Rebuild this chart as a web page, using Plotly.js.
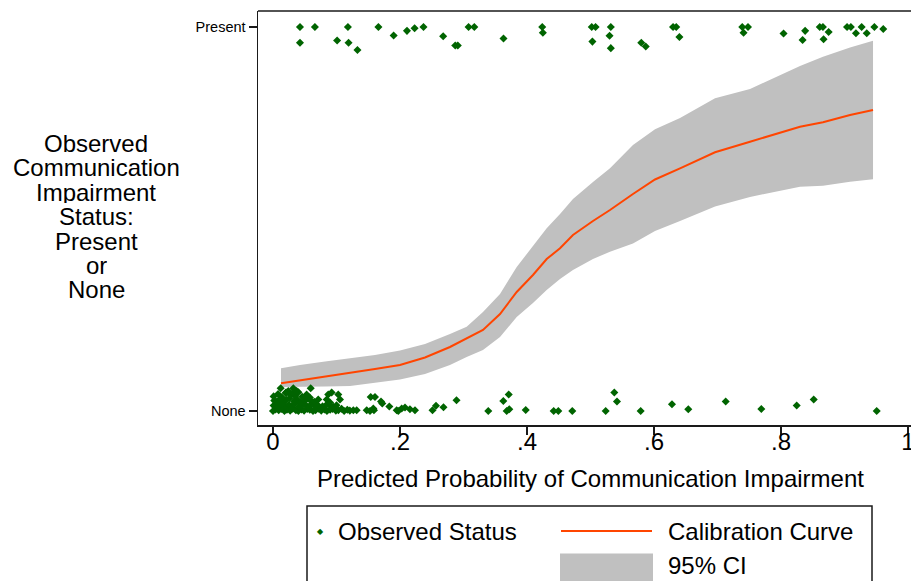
<!DOCTYPE html>
<html>
<head>
<meta charset="utf-8">
<script src="https://cdn.plot.ly/plotly-3.0.1.min.js"></script>
<style>
  html, body { margin: 0; padding: 0; background: #fff; overflow: hidden; }
  #chart { width: 911px; height: 581px; }
</style>
</head>
<body>
<div id="chart"></div>
<script>
// ---------------- DATA ----------------
// Calibration curve (lowess-type smooth) and its 95% CI
const curveX = [0.0126, 0.0425, 0.0819, 0.1213, 0.1606, 0.2000, 0.2394, 0.2787, 0.3050, 0.3307,
                0.3575, 0.3838, 0.4094, 0.4310, 0.4520, 0.4724, 0.5039, 0.5307, 0.5669, 0.6016,
                0.6410, 0.6961, 0.7512, 0.8299, 0.8661, 0.9087, 0.9449];
const curveY = [0.0721, 0.0794, 0.0891, 0.0997, 0.1094, 0.1198, 0.1393, 0.1667, 0.1888, 0.2109,
                0.2526, 0.3099, 0.3542, 0.3958, 0.4237, 0.4583, 0.4948, 0.5234, 0.5651, 0.6029,
                0.6320, 0.6737, 0.7013, 0.7404, 0.7518, 0.7708, 0.7839];
const ciUpper = [0.1112, 0.1198, 0.1289, 0.1372, 0.1458, 0.1576, 0.1745, 0.2005, 0.2195, 0.2578,
                 0.3047, 0.3750, 0.4297, 0.4758, 0.5130, 0.5521, 0.5964, 0.6320, 0.6927, 0.7336,
                 0.7630, 0.8143, 0.8385, 0.8984, 0.9227, 0.9466, 0.9643];
const ciLower = [0.0625, 0.0625, 0.0638, 0.0651, 0.0729, 0.0820, 0.0964, 0.1198, 0.1406, 0.1589,
                 0.1927, 0.2448, 0.2813, 0.3151, 0.3438, 0.3672, 0.3958, 0.4148, 0.4362, 0.4688,
                 0.4948, 0.5326, 0.5573, 0.5841, 0.5867, 0.5971, 0.6034];

// Observed status = Present (value 1, vertically jittered)
const presentX = [0.0425, 0.0425, 0.066, 0.101, 0.118, 0.119, 0.133, 0.166, 0.190, 0.211,
                  0.223, 0.237, 0.268, 0.287, 0.291, 0.308, 0.317, 0.363, 0.424, 0.425,
                  0.502, 0.508, 0.532, 0.530, 0.503, 0.532, 0.580, 0.587, 0.630, 0.635,
                  0.640, 0.739, 0.748, 0.741, 0.804, 0.838, 0.834, 0.861, 0.866, 0.875,
                  0.867, 0.904, 0.910, 0.918, 0.927, 0.935, 0.947, 0.961];
const presentY = [1.000, 0.959, 1.000, 0.965, 1.000, 0.959, 0.940, 1.000, 0.978, 0.990,
                  0.997, 1.000, 0.976, 0.952, 0.952, 1.000, 1.000, 0.970, 1.000, 0.985,
                  1.000, 1.000, 1.000, 0.977, 0.962, 0.945, 0.959, 0.949, 1.000, 1.000,
                  0.974, 1.000, 1.000, 0.985, 0.983, 0.990, 0.966, 1.000, 1.000, 0.987,
                  0.968, 1.000, 1.000, 0.984, 1.000, 0.984, 1.000, 0.995];

// Observed status = None (value 0, vertically jittered)
const noneX = [
  0.000, 0.004, 0.009, 0.013, 0.018, 0.022, 0.027, 0.031, 0.036, 0.040, 0.045, 0.049, 0.054, 0.058,
  0.063, 0.067, 0.072, 0.076, 0.081, 0.085, 0.090, 0.094, 0.099, 0.103, 0.108, 0.112, 0.117, 0.121,
  0.001, 0.007, 0.012, 0.019, 0.025, 0.030, 0.034, 0.041, 0.047, 0.052, 0.057, 0.061, 0.066, 0.070,
  0.078, 0.083, 0.088, 0.095, 0.100,
  0.002, 0.006, 0.011, 0.016, 0.021, 0.026, 0.033, 0.038, 0.043, 0.050, 0.055, 0.060, 0.065,
  0.0713, 0.0846, 0.0898, 0.1055,
  0.001, 0.008, 0.014, 0.020, 0.028, 0.035, 0.040, 0.046, 0.053, 0.058,
  0.087, 0.0924, 0.1028, 0.0205, 0.032,
  0.0121, 0.0241, 0.032, 0.0373, 0.0594,
  0.1265, 0.1318, 0.1476, 0.1528, 0.159, 0.158, 0.1539, 0.1606, 0.1701, 0.1721, 0.1832, 0.1948,
  0.1973, 0.2027, 0.2079, 0.2157, 0.2236, 0.2512, 0.2567, 0.2685, 0.289,
  0.339, 0.3627, 0.3712, 0.368, 0.3721, 0.398, 0.442, 0.4493, 0.4713, 0.5239, 0.5375, 0.5417,
  0.579, 0.6283, 0.654, 0.7129, 0.769, 0.8247, 0.8515, 0.9507
];
const noneY = [
  0.000, 0.004, 0.002, 0.005, 0.000, 0.003, 0.001, 0.006, 0.002, 0.000, 0.004, 0.001, 0.005, 0.003,
  0.000, 0.002, 0.006, 0.001, 0.004, 0.000, 0.003, 0.005, 0.001, 0.002, 0.006, 0.000, 0.003, 0.001,
  0.014, 0.011, 0.018, 0.013, 0.016, 0.010, 0.019, 0.012, 0.017, 0.015, 0.011, 0.018, 0.013, 0.016,
  0.012, 0.014, 0.017, 0.011, 0.015,
  0.027, 0.024, 0.031, 0.022, 0.029, 0.033, 0.025, 0.030, 0.023, 0.028, 0.032, 0.026, 0.024,
  0.030, 0.030, 0.022, 0.030,
  0.038, 0.044, 0.036, 0.047, 0.041, 0.039, 0.049, 0.037, 0.043, 0.035,
  0.043, 0.048, 0.043, 0.048, 0.048,
  0.059, 0.052, 0.059, 0.052, 0.059,
  0.0018, 0.0018, 0.0018, 0.000, 0.0018, 0.0063, 0.0365, 0.0365, 0.0245, 0.0193, 0.0115, 0.0018,
  0.000, 0.0063, 0.0089, 0.0044, 0.0018, 0.0018, 0.0135, 0.0096, 0.0279,
  0.000, 0.026, 0.0427, 0.000, 0.0044, 0.0026, 0.000, 0.000, 0.000, 0.000, 0.0479, 0.0245,
  0.000, 0.0174, 0.0044, 0.0245, 0.0052, 0.0141, 0.0297, 0.000
];

// Axis ticks
const xTickVals = [0, 0.2, 0.4, 0.6, 0.8, 1];
const xTickText = ['0', '.2', '.4', '.6', '.8', '1'];
const yTickVals = [0, 1];
const yTickText = ['None', 'Present'];

const xTitle = 'Predicted Probability of Communication Impairment';
const yTitleLines = ['Observed', 'Communication', 'Impairment', 'Status:', 'Present', 'or', 'None'];
const legendLabels = ['Observed Status', 'Calibration Curve', '95% CI'];

// ---------------- STYLE ----------------
const FONT = 'Liberation Sans, Arial, Helvetica, sans-serif';
const GREEN = '#006400';
const ORANGE = '#FF4500';
const GREY = '#C0C0C0';
const AXIS = '#1a1a1a';

const W = 911, H = 581;
const M = { l: 258, r: 0, t: 11, b: 156 };
const PW = W - M.l - M.r, PH = H - M.t - M.b;
// pixel -> paper helpers (for decorations only)
const pX = p => (p - M.l) / PW;
const pY = p => (H - M.b - p) / PH;

const markerAll = { symbol: 'diamond', size: 6.2, color: GREEN, line: { width: 0 } };

const traces = [
  { x: curveX, y: ciLower, mode: 'lines', line: { width: 0, color: GREY }, hoverinfo: 'skip', showlegend: false },
  { x: curveX, y: ciUpper, mode: 'lines', line: { width: 0, color: GREY }, fill: 'tonexty', fillcolor: GREY, hoverinfo: 'skip', showlegend: false },
  { x: curveX, y: curveY, mode: 'lines', line: { width: 2, color: ORANGE }, showlegend: false },
  { x: presentX, y: presentY, mode: 'markers', marker: markerAll, showlegend: false },
  { x: noneX, y: noneY, mode: 'markers', marker: markerAll, showlegend: false }
];

const annotations = [];
annotations.push({ xref: 'paper', yref: 'paper', x: pX(590), y: pY(478), text: xTitle, showarrow: false,
  xanchor: 'center', yanchor: 'middle', font: { family: FONT, size: 24, color: '#000' } });
const yLineStart = 143, yLineStep = 24.4;
yTitleLines.forEach((t, i) => {
  annotations.push({ xref: 'paper', yref: 'paper', x: pX(96), y: pY(yLineStart + i * yLineStep), text: t,
    showarrow: false, xanchor: 'center', yanchor: 'middle', height: 22, valign: 'middle', borderpad: 0,
    font: { family: FONT, size: 24, color: '#000' } });
});
// legend
annotations.push({ xref: 'paper', yref: 'paper', x: pX(320), y: pY(531), text: '\u25C6', showarrow: false,
  xanchor: 'center', yanchor: 'middle', font: { family: 'DejaVu Sans', size: 8, color: GREEN } });
annotations.push({ xref: 'paper', yref: 'paper', x: pX(336), y: pY(531), text: legendLabels[0], showarrow: false,
  xanchor: 'left', yanchor: 'middle', font: { family: FONT, size: 24, color: '#000' } });
annotations.push({ xref: 'paper', yref: 'paper', x: pX(666), y: pY(531), text: legendLabels[1], showarrow: false,
  xanchor: 'left', yanchor: 'middle', font: { family: FONT, size: 24, color: '#000' } });
annotations.push({ xref: 'paper', yref: 'paper', x: pX(666), y: pY(565), text: legendLabels[2], showarrow: false,
  xanchor: 'left', yanchor: 'middle', font: { family: FONT, size: 24, color: '#000' } });

const shapes = [
  // top border of plot region
  { type: 'line', xref: 'paper', yref: 'paper', x0: 0, x1: 1, y0: 1, y1: 1, line: { color: AXIS, width: 1.5 } },
  // legend frame
  { type: 'rect', xref: 'paper', yref: 'paper', x0: pX(307), x1: pX(872), y0: pY(506), y1: pY(600),
    line: { color: AXIS, width: 1.5 }, fillcolor: 'rgba(0,0,0,0)' },
  // legend line key
  { type: 'line', xref: 'paper', yref: 'paper', x0: pX(561), x1: pX(652), y0: pY(531), y1: pY(531),
    line: { color: ORANGE, width: 2 } },
  // legend area key
  { type: 'rect', xref: 'paper', yref: 'paper', x0: pX(560), x1: pX(653), y0: pY(553.5), y1: pY(595),
    line: { width: 0 }, fillcolor: GREY }
];

const layout = {
  width: W, height: H,
  margin: M,
  paper_bgcolor: '#fff', plot_bgcolor: '#fff',
  showlegend: false,
  font: { family: FONT, color: '#000' },
  xaxis: {
    range: [-0.0236, 1.0047], tickvals: xTickVals, ticktext: xTickText,
    ticks: 'outside', ticklen: 8, tickwidth: 1.5, tickcolor: AXIS,
    ticklabeloverflow: 'allow', ticklabelstandoff: -13,
    showline: true, linecolor: AXIS, linewidth: 1.5, mirror: false,
    showgrid: false, zeroline: false, tickfont: { family: FONT, size: 24, color: '#000' }
  },
  yaxis: {
    range: [-0.0365, 1.0417], tickvals: yTickVals, ticktext: yTickText,
    ticks: 'outside', ticklen: 8, tickwidth: 1.5, tickcolor: AXIS,
    showline: true, linecolor: AXIS, linewidth: 1.5, mirror: false,
    showgrid: false, zeroline: false, tickfont: { family: FONT, size: 14.5, color: '#000' }
  },
  annotations: annotations,
  shapes: shapes
};

Plotly.newPlot('chart', traces, layout, { displayModeBar: false, staticPlot: true });
</script>
</body>
</html>
